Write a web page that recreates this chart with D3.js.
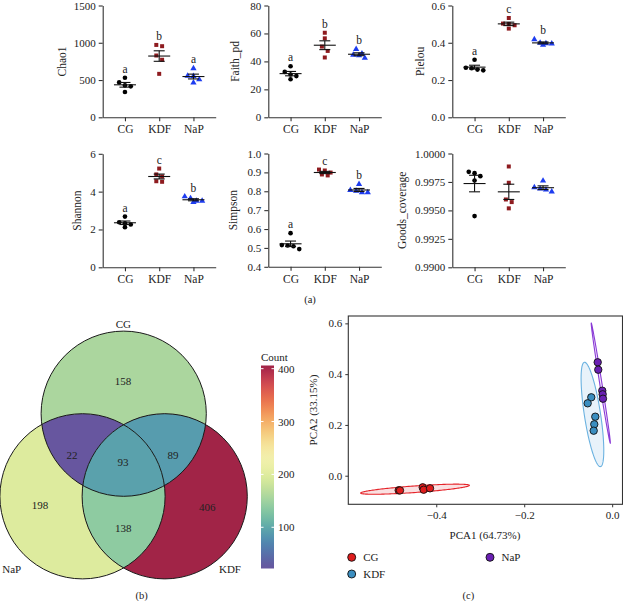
<!DOCTYPE html>
<html><head><meta charset="utf-8">
<script src="https://cdn.jsdelivr.net/npm/d3@7"></script>
<style>
body{margin:0;background:#fff;}
svg{display:block;font-family:'Liberation Serif','Times New Roman',serif;}
</style></head><body>
<svg id="chart" width="623" height="601"></svg>
<script>
// ---------------- DATA ----------------
const groups = ["CG", "KDF", "NaP"];

const chao1Values   = [[530,468,428,415,339],[971,954,829,772,583],[657,551,556,507,464]];
const faithValues   = [[36.5,30.6,32.5,29.5,27.2],[60.5,56.5,50.6,47.5,42.8],[48.7,45.6,44.7,44.2,42.4]];
const pielouValues  = [[0.309,0.266,0.263,0.256,0.252],[0.533,0.501,0.494,0.503,0.476],[0.418,0.399,0.395,0.397,0.388]];
const shannonValues = [[2.68,2.38,2.33,2.26,2.12],[5.22,4.91,4.80,4.55,4.52],[3.65,3.74,3.51,3.51,3.44]];
const simpsonValues = [[0.578,0.515,0.513,0.509,0.494],[0.915,0.910,0.899,0.889,0.884],[0.838,0.806,0.802,0.794,0.794]];
const goodsValues   = [[0.99839,0.99827,0.99801,0.99763,0.99450],[0.99886,0.99743,0.99596,0.99573,0.99518],[0.99760,0.99702,0.99690,0.99681,0.99664]];

const chao1Ticks   = [0, 500, 1000, 1500];
const faithTicks   = [0, 20, 40, 60, 80];
const pielouTicks  = [0.0, 0.2, 0.4, 0.6];
const shannonTicks = [0, 2, 4, 6];
const simpsonTicks = [0.4, 0.5, 0.6, 0.7, 0.8, 0.9, 1.0];
const goodsTicks   = [0.9900, 0.9925, 0.9950, 0.9975, 1.0000];

const chao1Letters   = ["a", "b", "a"];
const faithLetters   = ["a", "b", "b"];
const pielouLetters  = ["a", "c", "b"];
const shannonLetters = ["a", "c", "b"];
const simpsonLetters = ["a", "c", "b"];
const goodsLetters   = ["", "", ""];

// Venn
const vennSets    = ["CG", "NaP", "KDF"];
const vennRegions = ["CG", "NaP", "KDF", "CG&NaP", "CG&KDF", "NaP&KDF", "CG&NaP&KDF"];
const vennCounts  = [158, 198, 406, 22, 89, 138, 93];
const countTicks  = [100, 200, 300, 400];

// PCA
const pcaGroups = ["CG", "KDF", "NaP"];
const pcaX = [[-0.4854,-0.4825,-0.4308,-0.4286,-0.4142],
              [-0.0475,-0.0557,-0.0384,-0.0407,-0.0420],
              [-0.0329,-0.0316,-0.0225,-0.0216,-0.0209]];
const pcaY = [[-0.0575,-0.0580,-0.0457,-0.0551,-0.0496],
              [0.3088,0.2852,0.2324,0.2025,0.1773],
              [0.4467,0.4175,0.3348,0.3206,0.3033]];
const pcaXTicks = [-0.4, -0.2, 0.0];
const pcaYTicks = [0.0, 0.2, 0.4, 0.6];
const pcaXLabel = "PCA1 (64.73%)";
const pcaYLabel = "PCA2 (33.15%)";

// ---------------- DRAW ----------------
const svg = d3.select("#chart");
const TXT = "#222", AX = "#333";

// ----- (a) dot plots -----
const panels = [
  {title:"Chao1", vals:chao1Values, ticks:chao1Ticks, fmt:d3.format("d"), letters:chao1Letters, x0:102.7, top:5.5, bot:117.3, tx:61.7},
  {title:"Faith_pd", vals:faithValues, ticks:faithTicks, fmt:d3.format("d"), letters:faithLetters, x0:268.3, top:5.5, bot:117.3, tx:235},
  {title:"Pielou", vals:pielouValues, ticks:pielouTicks, fmt:d3.format(".1f"), letters:pielouLetters, x0:452.3, top:5.5, bot:117.3, tx:420},
  {title:"Shannon", vals:shannonValues, ticks:shannonTicks, fmt:d3.format("d"), letters:shannonLetters, x0:102.7, top:153.8, bot:267.3, tx:77.3},
  {title:"Simpson", vals:simpsonValues, ticks:simpsonTicks, fmt:d3.format(".1f"), letters:simpsonLetters, x0:268.3, top:153.5, bot:266.8, tx:233.3},
  {title:"Goods_coverage", vals:goodsValues, ticks:goodsTicks, fmt:d3.format(".4f"), letters:goodsLetters, x0:452.3, top:153.5, bot:267.3, tx:401.7}
];
const groupStyle = [
  {sym:d3.symbolCircle, size:17, fill:"#000"},
  {sym:d3.symbolSquare, size:16, fill:"#8e1b1f"},
  {sym:d3.symbolTriangle, size:17, fill:"#1e3df0"}
];

function dodge(values, y, thr, sp) {
  const idx = values.map((v,i)=>i).sort((a,b)=>values[b]-values[a]);
  const off = new Array(values.length).fill(0);
  let row = [], start = null;
  const flush = () => { row.forEach((k,j)=>{ off[k] = (j - (row.length-1)/2) * sp; }); };
  idx.forEach(k => {
    const py = y(values[k]);
    if (start === null || Math.abs(py - start) > thr) { flush(); row = [k]; start = py; }
    else row.push(k);
  });
  flush();
  return off;
}

panels.forEach(p => {
  const g = svg.append("g");
  const x = d3.scalePoint().domain(groups).range([p.x0, p.x0 + 113]).padding(0.65);
  const y = d3.scaleLinear().domain([p.ticks[0], p.ticks[p.ticks.length-1]]).range([p.bot, p.top]);
  const ya = g.append("g").attr("transform", `translate(${p.x0},0)`)
    .call(d3.axisLeft(y).tickValues(p.ticks).tickFormat(p.fmt).tickSize(4).tickSizeOuter(0).tickPadding(3));
  const xa = g.append("g").attr("transform", `translate(0,${p.bot})`)
    .call(d3.axisBottom(x).tickSize(4).tickSizeOuter(0).tickPadding(4));
  [ya, xa].forEach(a => {
    a.selectAll("path,line").attr("stroke", AX).attr("stroke-width", 1.1);
    a.selectAll("text").attr("fill", TXT).style("font-size", "11px").style("font-family", "'Liberation Serif',serif");
  });
  xa.selectAll("text").style("font-size", "11.5px");
  g.append("text").attr("transform", `translate(${p.tx},${(p.top+p.bot)/2}) rotate(-90)`)
    .attr("text-anchor", "middle").attr("dominant-baseline", "central")
    .attr("fill", TXT).style("font-size", "11.5px").text(p.title);

  groups.forEach((gr, gi) => {
    const vals = p.vals[gi];
    const cx = x(gr);
    const off = dodge(vals, y, 4.5, 5.8);
    const m = d3.mean(vals), sem = d3.deviation(vals) / Math.sqrt(vals.length);
    const st = groupStyle[gi];
    g.selectAll(null).data(vals).join("path")
      .attr("d", d3.symbol(st.sym, st.size)())
      .attr("transform", (v,i) => `translate(${cx + off[i]},${y(v)})`)
      .attr("fill", st.fill);
    const eg = g.append("g").attr("stroke", "#111").attr("stroke-width", 1.1).attr("fill", "none");
    eg.append("line").attr("x1", cx-11).attr("x2", cx+11).attr("y1", y(m)).attr("y2", y(m));
    eg.append("line").attr("x1", cx).attr("x2", cx).attr("y1", y(m-sem)).attr("y2", y(m+sem));
    eg.append("line").attr("x1", cx-5.5).attr("x2", cx+5.5).attr("y1", y(m+sem)).attr("y2", y(m+sem));
    eg.append("line").attr("x1", cx-5.5).attr("x2", cx+5.5).attr("y1", y(m-sem)).attr("y2", y(m-sem));
    if (p.letters[gi]) {
      g.append("text").attr("x", cx).attr("y", y(d3.max(vals)) - 5)
        .attr("text-anchor", "middle").attr("fill", TXT).style("font-size", "11.5px").text(p.letters[gi]);
    }
  });
});
svg.append("text").attr("x", 310).attr("y", 299).attr("text-anchor", "middle").attr("dominant-baseline", "central")
  .attr("fill", TXT).style("font-size", "10.5px").text("(a)");

// ----- (b) Venn -----
const vennLayout = {
  circles: {CG:[123.7,413.7], NaP:[82.5,496.3], KDF:[164.7,496.3]}, r: 82.6,
  labels: {"CG":[123,381], "NaP":[40,505], "KDF":[207.3,507.3], "CG&NaP":[72,455], "CG&KDF":[173,455], "NaP&KDF":[123.3,528.3], "CG&NaP&KDF":[123,462.3]},
  setLabels: {CG:[123.3,324], NaP:[11.7,569.3], KDF:[230,569.3]}
};
const cmin = d3.min(vennCounts), cmax = d3.max(vennCounts);
const vColor = v => {
  const t = Math.pow((v - cmin) / (cmax - cmin), 1.15);
  return d3.interpolateLab(d3.interpolateSpectral(1 - t), "#a89c7c")(0.1);
};
const countOf = name => vennCounts[vennRegions.indexOf(name)];
const defs = svg.append("defs");
vennSets.forEach(s => {
  defs.append("clipPath").attr("id", "clip" + s).append("circle")
    .attr("cx", vennLayout.circles[s][0]).attr("cy", vennLayout.circles[s][1]).attr("r", vennLayout.r);
});
const vg = svg.append("g");
const circ = (sel, s, fill) => sel.append("circle").attr("cx", vennLayout.circles[s][0]).attr("cy", vennLayout.circles[s][1])
  .attr("r", vennLayout.r).attr("fill", fill);
vennSets.forEach(s => circ(vg, s, vColor(countOf(s))));
const gCG = vg.append("g").attr("clip-path", "url(#clipCG)");
circ(gCG, "NaP", vColor(countOf("CG&NaP")));
circ(gCG, "KDF", vColor(countOf("CG&KDF")));
const gNaP = vg.append("g").attr("clip-path", "url(#clipNaP)");
circ(gNaP, "KDF", vColor(countOf("NaP&KDF")));
const gAll = vg.append("g").attr("clip-path", "url(#clipCG)").append("g").attr("clip-path", "url(#clipNaP)");
circ(gAll, "KDF", vColor(countOf("CG&NaP&KDF")));
vennSets.forEach(s => circ(vg, s, "none").attr("stroke", "#1a1a1a").attr("stroke-width", 1));
vennRegions.forEach((r, i) => {
  const [lx, ly] = vennLayout.labels[r];
  vg.append("text").attr("x", lx).attr("y", ly).attr("text-anchor", "middle").attr("dominant-baseline", "central")
    .attr("fill", TXT).style("font-size", "11px").text(vennCounts[i]);
});
vennSets.forEach(s => {
  const [lx, ly] = vennLayout.setLabels[s];
  vg.append("text").attr("x", lx).attr("y", ly).attr("text-anchor", "middle").attr("dominant-baseline", "central")
    .attr("fill", TXT).style("font-size", "11px").text(s);
});
// colorbar
const cbY = d3.scaleLinear().domain([cmin, cmax]).range([568.5, 365.5]);
const grad = defs.append("linearGradient").attr("id", "cbgrad").attr("x1", 0).attr("y1", 1).attr("x2", 0).attr("y2", 0);
d3.range(0, 1.0001, 0.025).forEach(t => grad.append("stop").attr("offset", t).attr("stop-color", vColor(cmin + t*(cmax-cmin))));
svg.append("rect").attr("x", 261).attr("y", 365.5).attr("width", 13).attr("height", 203).attr("fill", "url(#cbgrad)");
countTicks.forEach(t => {
  svg.append("line").attr("x1", 261).attr("x2", 263.5).attr("y1", cbY(t)).attr("y2", cbY(t)).attr("stroke", "#fff").attr("stroke-width", 1);
  svg.append("line").attr("x1", 271.5).attr("x2", 274).attr("y1", cbY(t)).attr("y2", cbY(t)).attr("stroke", "#fff").attr("stroke-width", 1);
});
svg.append("g").attr("transform", "translate(274,0)")
  .call(d3.axisRight(cbY).tickValues(countTicks).tickSize(0).tickPadding(4))
  .call(a => { a.select(".domain").remove(); a.selectAll("text").attr("fill", TXT).style("font-size", "11px").style("font-family", "'Liberation Serif',serif"); });
svg.append("text").attr("x", 261).attr("y", 357).attr("dominant-baseline", "central").attr("fill", TXT).style("font-size", "11px").text("Count");
svg.append("text").attr("x", 141.7).attr("y", 595).attr("text-anchor", "middle").attr("dominant-baseline", "central")
  .attr("fill", TXT).style("font-size", "10.5px").text("(b)");

// ----- (c) PCA -----
const px = d3.scaleLinear().domain([-0.6, 0.0235]).range([348.3, 622.5]);
const py = d3.scaleLinear().domain([-0.1126, 0.629]).range([504.3, 316]);
const pcaFill = ["#de1c1c", "#3b8ec0", "#6a1fb3"];
const ellStroke = ["#e5242a", "#6bb2e0", "#8a3ad6"];
const ellFill = ["rgba(226,60,70,0.16)", "rgba(110,175,225,0.16)", "rgba(140,70,210,0.10)"];
const ellK = Math.sqrt(2 * 6.9443); // 95% level, F(2, n-1)
function ellipse(xs, ys) {
  const n = xs.length, mx = d3.mean(xs), my = d3.mean(ys);
  let sxx = 0, syy = 0, sxy = 0;
  for (let i = 0; i < n; i++) { const dx = xs[i]-mx, dy = ys[i]-my; sxx += dx*dx; syy += dy*dy; sxy += dx*dy; }
  sxx /= n-1; syy /= n-1; sxy /= n-1;
  const tr = sxx + syy, det = sxx*syy - sxy*sxy, disc = Math.sqrt(Math.max(0, tr*tr/4 - det));
  const l1 = tr/2 + disc, l2 = Math.max(0, tr/2 - disc);
  const ang = Math.abs(sxy) < 1e-15 ? (sxx >= syy ? 0 : Math.PI/2) : Math.atan2(l1 - sxx, sxy);
  return d3.range(0, 361, 2).map(deg => {
    const t = deg * Math.PI / 180, a = ellK*Math.sqrt(l1)*Math.cos(t), b = ellK*Math.sqrt(l2)*Math.sin(t);
    return [mx + a*Math.cos(ang) - b*Math.sin(ang), my + a*Math.sin(ang) + b*Math.cos(ang)];
  });
}
defs.append("clipPath").attr("id", "pcaclip").append("rect").attr("x", 348.3).attr("y", 316).attr("width", 274.2).attr("height", 188.3);
const pg = svg.append("g");
const lineGen = d3.line().x(d => px(d[0])).y(d => py(d[1]));
const eg2 = pg.append("g").attr("clip-path", "url(#pcaclip)");
pcaGroups.forEach((gname, gi) => {
  eg2.append("path").attr("d", lineGen(ellipse(pcaX[gi], pcaY[gi])) + "Z")
    .attr("fill", ellFill[gi]).attr("stroke", ellStroke[gi]).attr("stroke-width", 1.1);
});
pcaGroups.forEach((gname, gi) => {
  eg2.selectAll(null).data(pcaX[gi].map((v,i)=>[v, pcaY[gi][i]])).join("circle")
    .attr("cx", d => px(d[0])).attr("cy", d => py(d[1])).attr("r", 3.7)
    .attr("fill", pcaFill[gi]).attr("stroke", "#111").attr("stroke-width", 0.9);
});
pg.append("rect").attr("x", 348.3).attr("y", 316).attr("width", 274.2).attr("height", 188.3)
  .attr("fill", "none").attr("stroke", AX).attr("stroke-width", 1.1);
const pxa = pg.append("g").attr("transform", "translate(0,504.3)")
  .call(d3.axisBottom(px).tickValues(pcaXTicks).tickFormat(d3.format(".1f")).tickSize(3).tickSizeOuter(0).tickPadding(4));
const pya = pg.append("g").attr("transform", "translate(348.3,0)")
  .call(d3.axisLeft(py).tickValues(pcaYTicks).tickFormat(d3.format(".1f")).tickSize(3).tickSizeOuter(0).tickPadding(3));
[pxa, pya].forEach(a => {
  a.select(".domain").remove();
  a.selectAll("line").attr("stroke", AX);
  a.selectAll("text").attr("fill", TXT).style("font-size", "11px").style("font-family", "'Liberation Serif',serif");
});
pg.append("text").attr("x", 485).attr("y", 535).attr("text-anchor", "middle").attr("dominant-baseline", "central")
  .attr("fill", TXT).style("font-size", "11px").text(pcaXLabel);
pg.append("text").attr("transform", "translate(313,410) rotate(-90)").attr("text-anchor", "middle").attr("dominant-baseline", "central")
  .attr("fill", TXT).style("font-size", "11px").text(pcaYLabel);
// legend
const legPos = [[351.7,557.3],[351.7,574],[490,557.3]];
pcaGroups.forEach((gname, gi) => {
  const [lx, ly] = legPos[gi];
  pg.append("circle").attr("cx", lx).attr("cy", ly).attr("r", 4).attr("fill", pcaFill[gi]).attr("stroke", "#111").attr("stroke-width", 0.9);
  pg.append("text").attr("x", lx + 11.5).attr("y", ly).attr("dominant-baseline", "central")
    .attr("fill", TXT).style("font-size", "11px").text(gname);
});
svg.append("text").attr("x", 468.3).attr("y", 595).attr("text-anchor", "middle").attr("dominant-baseline", "central")
  .attr("fill", TXT).style("font-size", "10.5px").text("(c)");
</script>
</body></html>
